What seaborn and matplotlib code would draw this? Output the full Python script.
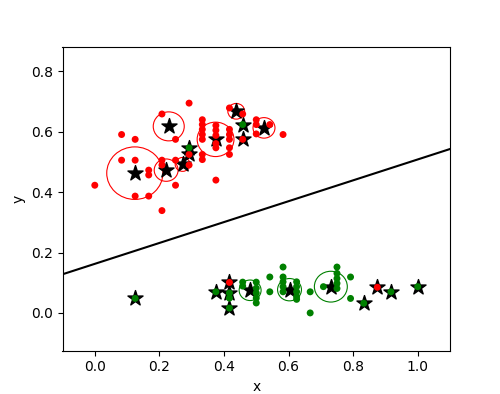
import matplotlib
matplotlib.use('Agg')
import matplotlib.pyplot as plt
import pandas as pd
import seaborn as sns

# data points, red class
red_x = [0.0,
         0.083, 0.083,
         0.125, 0.125, 0.125,
         0.167, 0.167, 0.167,
         0.208, 0.208, 0.208, 0.208,
         0.25, 0.25, 0.25,
         0.292, 0.292, 0.292,
         0.333, 0.333, 0.333, 0.333, 0.333, 0.333, 0.333,
         0.375, 0.375, 0.375, 0.375, 0.375, 0.375,
         0.417, 0.417, 0.417, 0.417, 0.417, 0.417,
         0.458, 0.458,
         0.5, 0.5, 0.5,
         0.542, 0.583,
         0.417, 0.875]
red_y = [0.423,
         0.591, 0.506,
         0.575, 0.506, 0.387,
         0.473, 0.457, 0.387,
         0.659, 0.506, 0.490, 0.339,
         0.575, 0.506, 0.423,
         0.695, 0.525, 0.490,
         0.640, 0.624, 0.608, 0.591, 0.575, 0.525, 0.508,
         0.621, 0.605, 0.588, 0.561, 0.547, 0.440,
         0.679, 0.608, 0.591, 0.575, 0.547, 0.525,
         0.659, 0.575,
         0.640, 0.624, 0.593,
         0.624, 0.591,
         0.101, 0.085]

# data points, green class
green_x = [0.125, 0.375,
           0.417, 0.417, 0.417,
           0.458, 0.458,
           0.5, 0.5, 0.5, 0.5, 0.5,
           0.542, 0.542,
           0.583, 0.583, 0.583, 0.583, 0.583,
           0.625, 0.625, 0.625, 0.625, 0.625,
           0.667, 0.667, 0.708,
           0.75, 0.75, 0.75, 0.75, 0.75,
           0.792, 0.792, 0.833, 0.917, 1.0,
           0.292, 0.458]
green_y = [0.048, 0.070,
           0.066, 0.049, 0.016,
           0.102, 0.089,
           0.102, 0.082, 0.066, 0.049, 0.033,
           0.119, 0.070,
           0.152, 0.119, 0.103, 0.087, 0.070,
           0.103, 0.087, 0.070, 0.054, 0.045,
           0.070, 0.0, 0.087,
           0.152, 0.131, 0.114, 0.098, 0.081,
           0.119, 0.048, 0.032, 0.070, 0.087,
           0.547, 0.624]

# cluster centres with radius
center_x = [0.124, 0.221, 0.229, 0.272, 0.374, 0.438, 0.524, 0.481, 0.603, 0.731]
center_y = [0.463, 0.473, 0.618, 0.492, 0.575, 0.668, 0.613, 0.075, 0.077, 0.087]
center_r = [0.087, 0.037, 0.048, 0.023, 0.057, 0.026, 0.034, 0.034, 0.037, 0.051]
center_cls = ['red'] * 7 + ['green'] * 3

# selected samples (marked with a star)
marked_x = [0.292, 0.292, 0.458, 0.458, 0.125, 0.375, 0.417, 0.417, 0.417,
            0.833, 0.875, 0.917, 1.0]
marked_y = [0.547, 0.525, 0.624, 0.575, 0.048, 0.070, 0.101, 0.066, 0.016,
            0.032, 0.085, 0.070, 0.087]

# decision line
boundary_x = [-0.1, 1.1]
boundary_y = [0.128, 0.543]

df = pd.DataFrame({
    'x': red_x + green_x,
    'y': red_y + green_y,
    'cls': ['red'] * len(red_x) + ['green'] * len(green_x),
})

fig, ax = plt.subplots(figsize=(5, 3.94), dpi=100)

for cx, cy, r, c in zip(center_x, center_y, center_r, center_cls):
    ax.add_patch(plt.Circle((cx, cy), r, fill=False, color=c, lw=0.8, zorder=1))

ax.scatter(center_x + marked_x, center_y + marked_y, marker='*', s=130,
           color='black', zorder=2)

sns.scatterplot(data=df, x='x', y='y', hue='cls',
                palette={'red': 'red', 'green': 'green'},
                s=25, linewidth=0, legend=False, ax=ax, zorder=3)

sns.lineplot(x=boundary_x, y=boundary_y, color='black', lw=1.5, ax=ax, zorder=4)

ax.set_xlim(-0.1, 1.1)
ax.set_ylim(-0.125, 0.88)
ax.set_xlabel('x')
ax.set_ylabel('y')

fig.savefig('out.png')
